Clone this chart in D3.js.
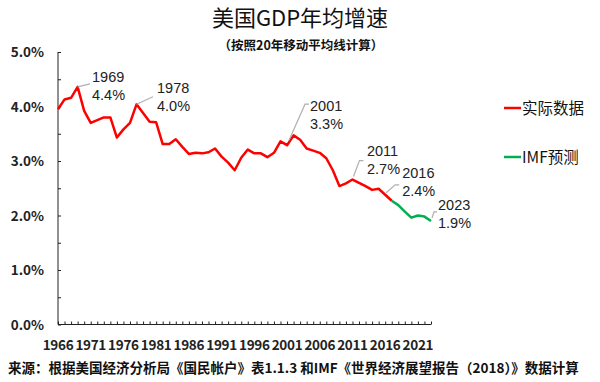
<!DOCTYPE html>
<html><head><meta charset="utf-8">
<script src="https://cdn.jsdelivr.net/npm/d3@7"></script>
<style>
html,body{margin:0;padding:0;background:#fff;}
svg{display:block;}
text{font-family:"Noto Sans CJK SC","Liberation Sans",sans-serif;}
text.ann{font-family:"Liberation Sans",Arial,sans-serif;}
</style></head>
<body>
<script>
// ---- data ----
const years = d3.range(1966, 2024);
const actualYears = d3.range(1966, 2018);
const actualValues = [3.95,4.13,4.16,4.36,3.92,3.70,3.75,3.80,3.80,3.43,
  3.58,3.70,4.04,3.88,3.72,3.71,3.31,3.31,3.40,3.26,
  3.13,3.15,3.14,3.16,3.23,3.08,2.97,2.83,3.06,3.21,
  3.14,3.14,3.07,3.15,3.36,3.29,3.47,3.39,3.23,3.19,
  3.15,3.05,2.83,2.54,2.59,2.66,2.60,2.54,2.47,2.49,
  2.38,2.27];
const imfYears = d3.range(2017, 2024);
const imfValues = [2.27,2.19,2.07,1.96,2.00,1.98,1.90];
const xTickLabels = [1966,1971,1976,1981,1986,1991,1996,2001,2006,2011,2016,2021];
const yTicks = [0,1,2,3,4,5];
const annotatedYears = [1969,1978,2001,2011,2016,2023];
const seriesNames = ["实际数据","IMF预测"];
const title = "美国GDP年均增速";
const subtitle = "（按照20年移动平均线计算）";
const source = "来源：根据美国经济分析局《国民帐户》表1.1.3 和IMF《世界经济展望报告（2018）》数据计算";

// ---- layout ----
const W = 600, H = 382;
const colors = {actual:"#ff0000", imf:"#00b050", axis:"#222", text:"#222", leader:"#b0b0b0"};
const annLayout = {
  1969:{tx:14.4,ty:-4.9,lead:[[0,0],[12.4,-3]]},
  1978:{tx:20.5,ty:-11.3,lead:[[0,0],[16.5,-7.5]]},
  2001:{tx:23,ty:-34,lead:[[2,-5],[18,-41],[22,-41]]},
  2011:{tx:14.5,ty:-23.5,lead:[[1,-3],[7,-19],[11,-19]]},
  2016:{tx:17,ty:-17,lead:[[1,-2],[10,-10],[14,-10]]},
  2023:{tx:7,ty:-11,lead:[[1,-3],[3,-9],[6,-9]]}
};

const svg = d3.select("body").append("svg").attr("width",W).attr("height",H);

const x = d3.scalePoint().domain(years).range([58,431]);
const y = d3.scaleLinear().domain([0,5]).range([324.5,52]);

// title
svg.append("text").attr("x",300).attr("y",26).attr("text-anchor","middle")
  .attr("font-size",22).attr("fill","#111").text(title);
svg.append("text").attr("x",301).attr("y",50).attr("text-anchor","middle")
  .attr("font-size",12.5).attr("font-weight","bold").attr("fill","#111").text(subtitle);

// y axis
const yAxis = d3.axisRight(y).tickValues(d3.range(0,5.01,0.5)).tickSize(3).tickFormat("");
const gy = svg.append("g").attr("transform","translate(58,0)").call(yAxis);
gy.select(".domain").attr("stroke",colors.axis).attr("d","M0,52V324.5");
gy.selectAll(".tick line").attr("stroke",colors.axis);
svg.append("g").selectAll("text").data(yTicks).join("text")
  .attr("x",44).attr("y",d=>y(d)+5).attr("text-anchor","end")
  .attr("font-size",13.5).attr("font-weight","bold").attr("fill",colors.text)
  .text(d=>d.toFixed(1)+"%");

// x axis
const xAxis = d3.axisTop(x).tickSize(3).tickFormat("");
const gx = svg.append("g").attr("transform","translate(0,324.5)").call(xAxis);
gx.select(".domain").attr("stroke",colors.axis).attr("d","M58,0H431");
gx.selectAll(".tick line").attr("stroke",colors.axis);
svg.append("g").selectAll("text").data(xTickLabels).join("text")
  .attr("x",d=>x(d)).attr("y",350).attr("text-anchor","middle")
  .attr("font-size",13.5).attr("font-weight","bold").attr("fill",colors.text)
  .attr("letter-spacing",-0.3)
  .text(d=>d);

// lines
const line = d3.line().x(d=>x(d[0])).y(d=>y(d[1]));
svg.append("path").datum(d3.zip(actualYears,actualValues)).attr("d",line)
  .attr("fill","none").attr("stroke",colors.actual).attr("stroke-width",2.5).attr("stroke-linejoin","round");
svg.append("path").datum(d3.zip(imfYears,imfValues)).attr("d",line)
  .attr("fill","none").attr("stroke",colors.imf).attr("stroke-width",2.5).attr("stroke-linejoin","round");

// annotations
const valueOf = yr => {
  const i = actualYears.indexOf(yr);
  if (i >= 0) return actualValues[i];
  return imfValues[imfYears.indexOf(yr)];
};
annotatedYears.forEach(yr=>{
  const v = valueOf(yr), px = x(yr), py = y(v), L = annLayout[yr];
  svg.append("polyline").attr("points",L.lead.map(p=>[px+p[0],py+p[1]].join(",")).join(" "))
    .attr("fill","none").attr("stroke",colors.leader).attr("stroke-width",1.2);
  [String(yr), v.toFixed(1)+"%"].forEach((s,k)=>{
    svg.append("text").attr("class","ann").attr("x",px+L.tx).attr("y",py+L.ty+18*k)
      .attr("font-size",14.5).attr("fill","#222").text(s);
  });
});

// legend
const legendY = [108,157];
const legColors = [colors.actual, colors.imf];
seriesNames.forEach((n,i)=>{
  svg.append("line").attr("x1",504).attr("x2",521).attr("y1",legendY[i]).attr("y2",legendY[i])
    .attr("stroke",legColors[i]).attr("stroke-width",2.5);
  svg.append("text").attr("x",522).attr("y",legendY[i]+5.5).attr("font-size",15.5)
    .attr("fill","#111").text(n);
});

// source
svg.append("text").attr("x",8).attr("y",373).attr("font-size",13.5).attr("font-weight","bold")
  .attr("fill","#111").text(source);
</script>
</body></html>
